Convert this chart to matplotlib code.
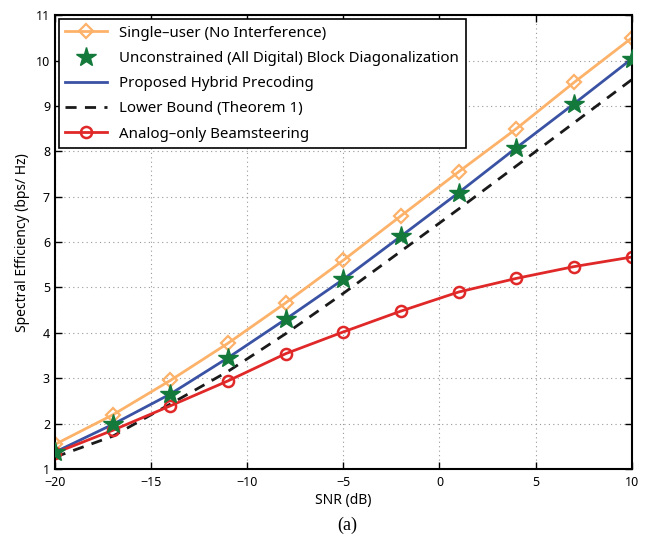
import numpy as np
import matplotlib
matplotlib.use('Agg')
import matplotlib.pyplot as plt

plt.rcParams['font.family'] = ['Noto Sans', 'DejaVu Sans']

snr = [-20, -17, -14, -11, -8, -5, -2, 1, 4, 7, 10]
single_user = [1.54, 2.19, 2.95, 3.77, 4.66, 5.60, 6.58, 7.55, 8.50, 9.52, 10.50]
unconstrained = [1.37, 1.98, 2.65, 3.45, 4.30, 5.18, 6.13, 7.09, 8.08, 9.05, 10.04]
hybrid = [1.37, 1.98, 2.65, 3.45, 4.30, 5.18, 6.13, 7.09, 8.08, 9.05, 10.04]
lower_bound = [1.26, 1.72, 2.43, 3.15, 3.98, 4.87, 5.80, 6.73, 7.68, 8.63, 9.58]
analog_only = [1.35, 1.85, 2.39, 2.94, 3.54, 4.02, 4.48, 4.90, 5.20, 5.46, 5.67]

fig = plt.figure(figsize=(6.46, 5.44), dpi=100)
ax = fig.add_axes([0.085, 0.138, 0.893, 0.834])

ax.plot(snr, single_user, '-', color='#FDB26A', lw=2, marker='D', ms=7,
        mfc='none', mec='#FDB26A', mew=1.6, label='Single\u2013user (No Interference)')
ax.plot(snr, unconstrained, linestyle='none', marker='*', ms=15,
        color='#137A3B', label='Unconstrained (All Digital) Block Diagonalization')
ax.plot(snr, hybrid, '-', color='#3A52A3', lw=2, label='Proposed Hybrid Precoding')
ax.plot(snr, lower_bound, '--', color='#1a1a1a', lw=2, dashes=(4, 3),
        label='Lower Bound (Theorem 1)')
ax.plot(snr, analog_only, '-', color='#E02828', lw=2, marker='o', ms=8,
        mfc='none', mec='#E02828', mew=1.8, label='Analog\u2013only Beamsteering')
# stars drawn above the blue line
ax.lines[1].set_zorder(5)

ax.set_xlim(-20, 10)
ax.set_ylim(1, 11)
ax.set_xticks(np.arange(-20, 11, 5))
ax.set_yticks(np.arange(1, 12, 1))
ax.set_xticklabels(['\u221220', '\u221215', '\u221210', '\u22125', '0', '5', '10'])
ax.tick_params(direction='in', top=True, right=True, labelsize=9, length=5, width=1)
ax.tick_params(axis='x', pad=5)
ax.grid(True, linestyle=(0, (1, 3)), color='#999999', lw=0.8)
for s in ax.spines.values():
    s.set_linewidth(1.5)

ax.set_xlabel('SNR (dB)', fontsize=10, labelpad=3)
ax.set_ylabel('Spectral Efficiency (bps/ Hz)', fontsize=10)

leg = ax.legend(loc='upper left', fontsize=10.8, fancybox=False, framealpha=1,
                edgecolor='black', borderaxespad=0.25, handlelength=2.8,
                labelspacing=0.68, borderpad=0.45)
leg.get_frame().set_linewidth(1.2)

fig.text(0.538, 0.025, '(a)', family='Liberation Serif', fontsize=13, ha='center')

fig.savefig('out.png', dpi=100)
